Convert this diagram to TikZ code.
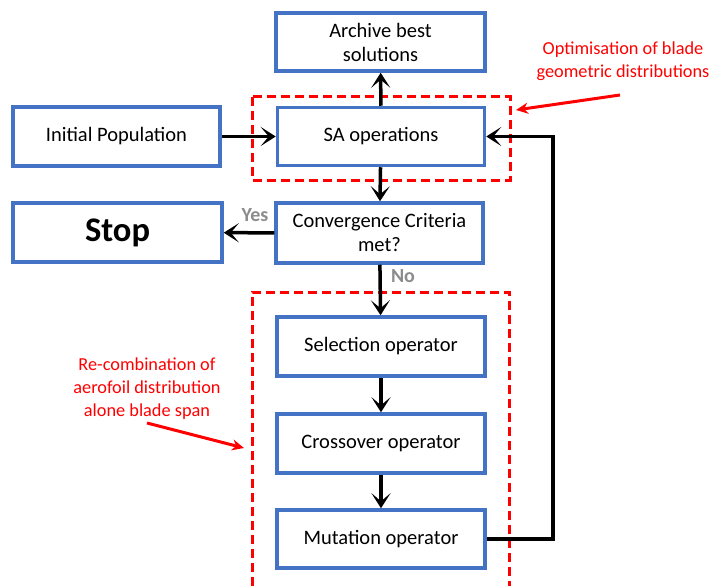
\documentclass[tikz,border=0pt]{standalone}
\usepackage{fontspec}
\setmainfont{Carlito}
\usetikzlibrary{arrows.meta}
\definecolor{boxblue}{HTML}{4472C4}
\definecolor{notered}{HTML}{FF0000}
\definecolor{labelgray}{HTML}{8C8C8C}
\tikzset{
  stepbox/.style={draw=boxblue, line width=3.5pt, fill=white, rectangle,
    align=center, inner sep=0pt, font=\fontsize{20.5}{24}\selectfont},
  flow/.style={draw=black, line width=3.5pt,
    -{Stealth[length=15pt, width=19pt, inset=8pt]}},
  groupbox/.style={draw=notered, line width=3pt, dash pattern=on 9pt off 5pt},
  notetext/.style={text=notered, align=center, font=\fontsize{18.3}{23}\selectfont},
  notearrow/.style={draw=notered, line width=3pt,
    -{Stealth[length=12pt, width=11pt]}},
  answer/.style={text=labelgray, font=\bfseries\fontsize{20}{22}\selectfont}
}
\begin{document}
\begin{tikzpicture}[x=1pt, y=-1pt]
\useasboundingbox (0,0) rectangle (713,586);

% dashed groups
\draw[groupbox] (252,97) rectangle (510,180);
\draw[groupbox] (252,600) -- (252,292) -- (509,292) -- (509,600);

% process boxes
\node[stepbox, minimum width=209pt, minimum height=58pt] (arch) at (380.5,42) {Archive best\\solutions};
\node[stepbox, minimum width=207pt, minimum height=58pt] (sa) at (381,136.5) {SA operations};
\node[stepbox, minimum width=207pt, minimum height=59pt] (init) at (116.5,136.5) {Initial Population};
\node[stepbox, minimum width=209pt, minimum height=59pt, font=\bfseries\fontsize{34.5}{38}\selectfont] (stop) at (117.5,232.5) {Stop};
\node[stepbox, minimum width=207pt, minimum height=60pt] (conv) at (379.5,233) {Convergence Criteria\\met?};
\node[stepbox, minimum width=208pt, minimum height=59pt] (sel) at (381,346.5) {Selection operator};
\node[stepbox, minimum width=208pt, minimum height=59pt] (cross) at (381,443.5) {Crossover operator};
\node[stepbox, minimum width=208pt, minimum height=58pt] (mut) at (381,539) {Mutation operator};

% flow connectors
\draw[flow] (sa) -- (arch);
\draw[flow] (init) -- (sa);
\draw[flow] (sa) -- (conv);
\draw[flow] (conv) -- (stop);
\draw[flow] (conv) -- (sel);
\draw[flow] (sel) -- (cross);
\draw[flow] (cross) -- (mut);
\coordinate (loopdown) at (553,539);
\coordinate (loopup) at (553,136.5);
\draw[flow] (mut.east) -- (loopdown) -- (loopup) -- (sa.east);

% branch labels
\node[answer] (yes) at (255,215) {Yes};
\node[answer] (no) at (403,276) {No};

% annotations
\node[notetext] (optnote) at (623,61) {Optimisation of blade\\geometric distributions};
\coordinate (opttip) at (516,110);
\coordinate (opttail) at (620,95);
\draw[notearrow] (opttail) -- (opttip);

\node[notetext] (recnote) at (147,389) {Re-combination of\\aerofoil distribution\\alone blade span};
\coordinate (rectail) at (147,423);
\coordinate (rectip) at (244,448);
\draw[notearrow] (rectail) -- (rectip);
\end{tikzpicture}
\end{document}
